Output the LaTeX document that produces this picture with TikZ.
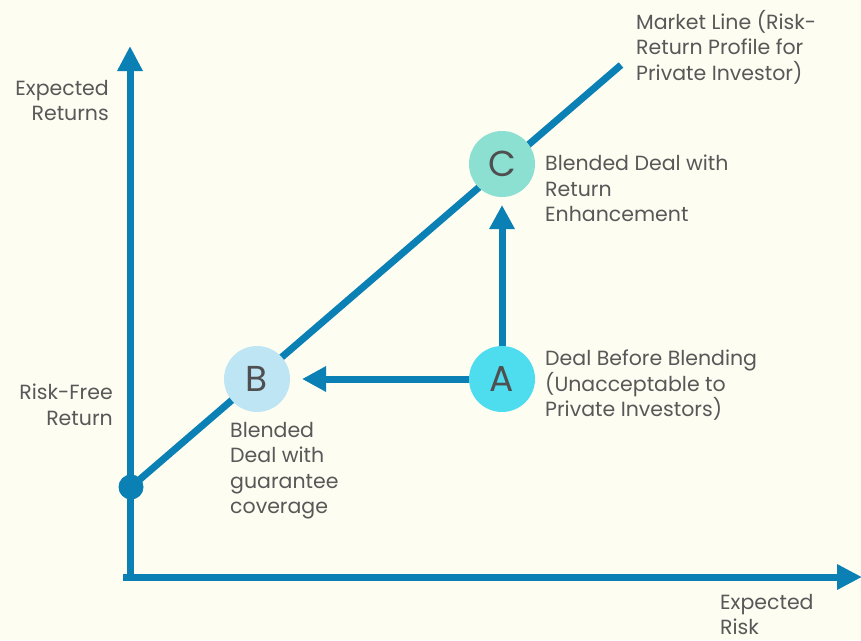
\documentclass[tikz,border=0pt]{standalone}
\usepackage{fontspec}
\setmainfont{Poppins}
\usetikzlibrary{arrows.meta}
\definecolor{bg}{HTML}{FDFDF2}
\definecolor{ln}{HTML}{0A80B5}
\definecolor{txt}{HTML}{585858}
\definecolor{cB}{HTML}{BDE5F4}
\definecolor{cA}{HTML}{4EDCEF}
\definecolor{cC}{HTML}{8CE0D2}
\tikzset{
  axis/.style={draw=ln, line width=7pt, -{Triangle[length=25pt,width=24pt]}},
  conn/.style={draw=ln, line width=7pt, -{Triangle[length=24pt,width=24pt]}},
  mline/.style={draw=ln, line width=7pt},
  pt/.style={circle, minimum size=66pt, inner sep=0pt, text=txt!90!black, font=\fontsize{36}{36}\selectfont},
  lbl/.style={text=txt, font=\fontsize{20.5}{25.5}\selectfont, inner sep=0pt},
}
\begin{document}
\begin{tikzpicture}[x=1pt,y=-1pt]
\fill[bg] (0,0) rectangle (861,640);
\useasboundingbox (0,0) rectangle (861,640);
\coordinate (ytip) at (130,46);
\coordinate (xtip) at (862,577);
\coordinate (mend) at (621,65);
\node[circle, fill=ln, minimum size=25pt, inner sep=0pt] (rf) at (131,487) {};
\draw[mline] (rf.center) -- (mend);
\draw[axis, line cap=rect] (126.5,577) -- (xtip);
\draw[axis] (130,580.5) -- (ytip);
\node[pt, fill=cB] (B) at (257,379) {B};
\node[pt, fill=cA] (A) at (502,379) {A};
\node[pt, fill=cC] (C) at (502,164) {C};
\coordinate (btip) at (302,379);
\coordinate (ctip) at (502,205);
\draw[conn] (A.west) -- (btip);
\draw[conn] (A.north) -- (ctip);
\node[lbl, align=right, anchor=north east] (ler) at (109,80) {Expected\\Returns};
\node[lbl, align=right, anchor=north east] (lrf) at (113,384) {Risk-Free\\Return};
\node[lbl, align=left, anchor=north west] (lb) at (230,422) {Blended\\Deal with\\guarantee\\coverage};
\node[lbl, align=left, anchor=north west] (la) at (545,350) {Deal Before Blending\\(Unacceptable to\\Private Investors)};
\node[lbl, align=left, anchor=north west] (lc) at (545,155) {Blended Deal with\\Return\\Enhancement};
\node[lbl, align=left, anchor=north west] (lm) at (636,10) {Market Line (Risk-\\Return Profile for\\Private Investor)};
\node[lbl, align=left, anchor=north west] (lx) at (720,594) {Expected\\Risk};
\end{tikzpicture}
\end{document}
